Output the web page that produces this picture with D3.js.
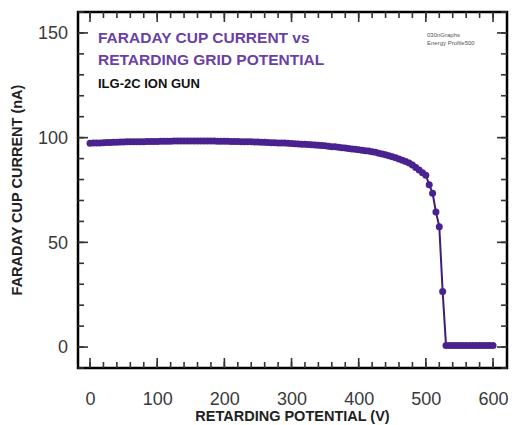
<!DOCTYPE html>
<html>
<head>
<meta charset="utf-8">
<script src="https://cdn.jsdelivr.net/npm/d3@7"></script>
<style>
  body { margin: 0; background: #fff; }
  svg { display: block; }
  text { font-family: "Liberation Sans", Arial, sans-serif; }
</style>
</head>
<body>
<svg id="chart" width="528" height="425"></svg>
<script>
// retarding potential (V)
const voltage = [
  0, 5, 10, 15, 20, 25, 30, 35, 40, 45, 50, 55, 60, 65, 70, 75, 80, 85, 90, 95,
  100, 105, 110, 115, 120, 125, 130, 135, 140, 145, 150, 155, 160, 165, 170, 175, 180, 185, 190, 195,
  200, 205, 210, 215, 220, 225, 230, 235, 240, 245, 250, 255, 260, 265, 270, 275, 280, 285, 290, 295,
  300, 305, 310, 315, 320, 325, 330, 335, 340, 345, 350, 355, 360, 365, 370, 375, 380, 385, 390, 395,
  400, 405, 410, 415, 420, 425, 430, 435, 440, 445, 450, 455, 460, 465, 470, 475, 480, 485, 490, 495,
  500, 505, 510, 515, 520, 525, 530, 535, 540, 545, 550, 555, 560, 565, 570, 575, 580, 585, 590, 595, 600
];
// faraday cup current (nA)
const current = [
  97.3, 97.4, 97.5, 97.5, 97.6, 97.7, 97.7, 97.8, 97.8, 97.9, 97.9, 98.0, 98.0, 98.0, 98.1, 98.1, 98.1, 98.2, 98.2, 98.2,
  98.2, 98.3, 98.3, 98.3, 98.3, 98.4, 98.4, 98.4, 98.4, 98.4, 98.4, 98.4, 98.4, 98.4, 98.4, 98.4, 98.4, 98.4, 98.3, 98.3,
  98.3, 98.3, 98.2, 98.2, 98.2, 98.1, 98.1, 98.0, 98.0, 97.9, 97.9, 97.8, 97.8, 97.7, 97.6, 97.6, 97.5, 97.4, 97.4, 97.3,
  97.2, 97.1, 97.0, 96.9, 96.8, 96.7, 96.6, 96.5, 96.4, 96.2, 96.1, 95.9, 95.7, 95.6, 95.4, 95.2, 95.0, 94.8, 94.6, 94.4,
  94.2, 94.0, 93.8, 93.6, 93.3, 93.0, 92.6, 92.2, 91.8, 91.4, 90.9, 90.4, 89.8, 89.2, 88.6, 87.9, 86.9, 85.8, 84.5, 83.2,
  82.0, 77.5, 73.5, 64.5, 57.5, 26.5, 0.8, 0.8, 0.8, 0.8, 0.8, 0.8, 0.8, 0.8, 0.8, 0.8, 0.8, 0.8, 0.8, 0.8, 0.8
];
const xTicks = [0, 100, 200, 300, 400, 500, 600];
const yTicks = [0, 50, 100, 150];
const titleLines = ["FARADAY CUP CURRENT vs", "RETARDING GRID POTENTIAL"];
const subtitle = "ILG-2C ION GUN";
const noteLines = ["030nGraphs", "Energy Profile500"];
const xTitle = "RETARDING POTENTIAL (V)";
const yTitle = "FARADAY CUP CURRENT (nA)";

const svg = d3.select("#chart");
const pLeft = 78, pRight = 507, pTop = 12, pBottom = 368;

const x = d3.scaleLinear().domain([-17.9, 620.8]).range([pLeft, pRight]);
const y = d3.scaleLinear().domain([-10, 160]).range([pBottom, pTop]);

const xMinor = d3.range(0, 620, 20);
const yMinor = d3.range(-10, 161, 10);

// frame
svg.append("rect")
  .attr("x", pLeft).attr("y", pTop)
  .attr("width", pRight - pLeft).attr("height", pBottom - pTop)
  .attr("fill", "none").attr("stroke", "#000").attr("stroke-width", 2.5);

// inward tick marks on all four sides, drawn as thin rects
function xMarks(vals, len) {
  [pBottom - len, pTop].forEach(yy => {
    svg.append("g").selectAll("rect").data(vals).enter().append("rect")
      .attr("x", d => x(d) - 0.8).attr("y", yy)
      .attr("width", 1.6).attr("height", len)
      .attr("fill", "#333");
  });
}
function yMarks(vals, len) {
  [pLeft, pRight - len].forEach(xx => {
    svg.append("g").selectAll("rect").data(vals).enter().append("rect")
      .attr("x", xx).attr("y", d => y(d) - 0.8)
      .attr("width", len).attr("height", 1.6)
      .attr("fill", "#333");
  });
}
xMarks(xMinor, 6);
xMarks(xTicks, 10);
yMarks(yMinor, 6);
yMarks(yTicks, 10);

// tick labels through the axis generators
const xAxis = svg.append("g").attr("transform", `translate(0,${pBottom})`)
  .call(d3.axisBottom(x).tickValues(xTicks).tickSize(0).tickPadding(24));
const yAxis = svg.append("g").attr("transform", `translate(${pLeft},0)`)
  .call(d3.axisLeft(y).tickValues(yTicks).tickSize(0).tickPadding(10));
[xAxis, yAxis].forEach(g => {
  g.select(".domain").remove();
  g.selectAll(".tick line").remove();
  g.selectAll(".tick text")
    .attr("font-family", "Liberation Sans, Arial, sans-serif")
    .attr("font-size", 18)
    .attr("fill", "#3a3a3a");
});

// data
const pts = voltage.map((v, i) => [v, current[i]]);
const curve = d3.line().x(d => x(d[0])).y(d => y(d[1]));

svg.append("path")
  .datum(pts)
  .attr("d", curve)
  .attr("fill", "none")
  .attr("stroke", "#3f1d7a")
  .attr("stroke-width", 2);

svg.append("g").selectAll("circle")
  .data(pts)
  .enter()
  .append("circle")
  .attr("cx", d => x(d[0]))
  .attr("cy", d => y(d[1]))
  .attr("r", 3.5)
  .attr("fill", "#4a2290");

// titles
svg.append("g").selectAll("text")
  .data(titleLines)
  .enter()
  .append("text")
  .attr("x", 98)
  .attr("y", (d, i) => 43 + i * 22)
  .attr("font-size", 15.5)
  .attr("font-weight", "bold")
  .attr("fill", "#6a3fa6")
  .text(d => d);

svg.append("text")
  .attr("x", 98).attr("y", 88)
  .attr("font-size", 13)
  .attr("font-weight", "bold")
  .attr("fill", "#111")
  .text(subtitle);

svg.append("g").selectAll("text")
  .data(noteLines)
  .enter()
  .append("text")
  .attr("x", 427)
  .attr("y", (d, i) => 37 + i * 8)
  .attr("font-size", 6)
  .attr("fill", "#555")
  .text(d => d);

svg.append("text")
  .attr("x", (pLeft + pRight) / 2)
  .attr("y", 421)
  .attr("text-anchor", "middle")
  .attr("font-size", 14.5)
  .attr("font-weight", "bold")
  .attr("fill", "#222")
  .text(xTitle);

svg.append("text")
  .attr("transform", `translate(22,${(pTop + pBottom) / 2}) rotate(-90)`)
  .attr("text-anchor", "middle")
  .attr("font-size", 14.5)
  .attr("font-weight", "bold")
  .attr("fill", "#222")
  .text(yTitle);
</script>
</body>
</html>
